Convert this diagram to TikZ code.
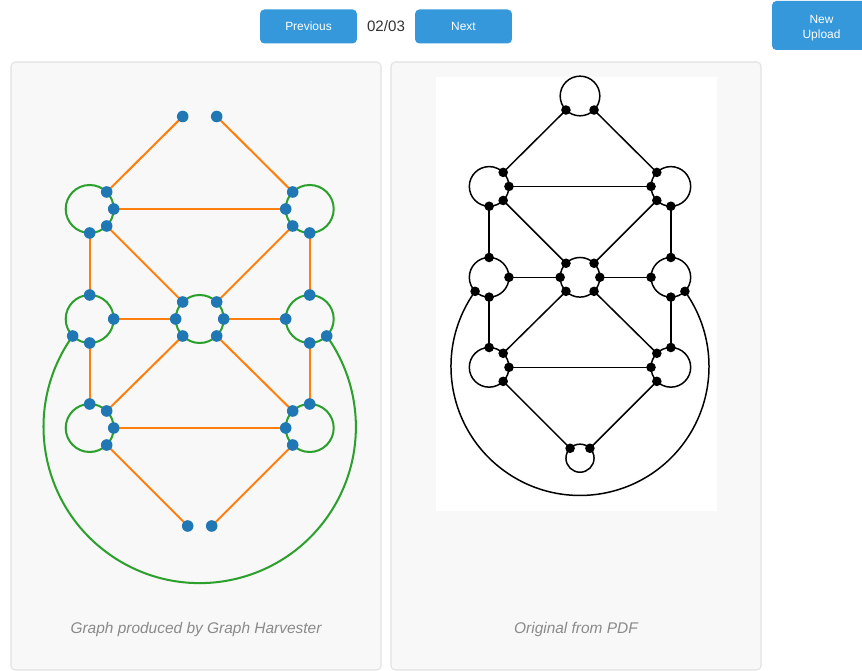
\documentclass[tikz,border=0pt]{standalone}
\usepackage{fontspec}
\setmainfont{Liberation Sans}
\usetikzlibrary{positioning}
\definecolor{BtnBlue}{HTML}{3498DB}
\definecolor{PanelGray}{HTML}{F8F8F8}
\definecolor{PanelLine}{HTML}{E2E2E2}
\definecolor{CapGray}{HTML}{8A8A8A}
\definecolor{PageGray}{HTML}{333333}
\definecolor{HOrange}{HTML}{FF7F0E}
\definecolor{HGreen}{HTML}{2CA02C}
\definecolor{HBlue}{HTML}{1F77B4}

% points of the graph, centre cycle at the origin
\newcommand{\harvestcoords}{%
  \coordinate (cUL) at (-110,110);  \coordinate (cUR) at (110,110);
  \coordinate (cML) at (-110,0);    \coordinate (cC) at (0,0);
  \coordinate (cMR) at (110,0);
  \coordinate (cLL) at (-110,-109); \coordinate (cLR) at (110,-109);
  \coordinate (cT) at (0,219.5);    \coordinate (cB) at (0,-219);
  \coordinate (t1) at (-17,202.5);  \coordinate (t2) at (17,202.5);
  \coordinate (ul1) at (-93,127);   \coordinate (ul2) at (-86,110);
  \coordinate (ul3) at (-93,93);    \coordinate (ul4) at (-110,86);
  \coordinate (ur1) at (93,127);    \coordinate (ur2) at (86,110);
  \coordinate (ur3) at (93,93);     \coordinate (ur4) at (110,86);
  \coordinate (ml1) at (-110,24);   \coordinate (ml2) at (-86,0);
  \coordinate (ml3) at (-127,-17);  \coordinate (ml4) at (-110,-24);
  \coordinate (mr1) at (110,24);    \coordinate (mr2) at (86,0);
  \coordinate (mr3) at (127,-17);   \coordinate (mr4) at (110,-24);
  \coordinate (c1) at (-17,17);     \coordinate (c2) at (17,17);
  \coordinate (c3) at (-24,0);      \coordinate (c4) at (24,0);
  \coordinate (c5) at (-17,-17);    \coordinate (c6) at (17,-17);
  \coordinate (ll1) at (-110,-85);  \coordinate (ll2) at (-93,-92);
  \coordinate (ll3) at (-86,-109);  \coordinate (ll4) at (-93,-126);
  \coordinate (lr1) at (110,-85);   \coordinate (lr2) at (93,-92);
  \coordinate (lr3) at (86,-109);   \coordinate (lr4) at (93,-126);
  \coordinate (b1) at (-12,-207);   \coordinate (b2) at (12,-207);
}
\newcommand{\harvestcycles}{%
  \foreach \c in {cUL,cUR,cML,cC,cMR,cLL,cLR}
    \draw[cycleline] (\c) circle[radius=24];
  \draw[cycleline] (ml3) arc[start angle=144.4, end angle=395.6, radius=156.2];
}
\newcommand{\harvestedges}{%
  \foreach \a/\b in {t1/ul1, t2/ur1, ul2/ur2, ul3/c1, ur3/c2, ul4/ml1, ur4/mr1,
      ml2/c3, c4/mr2, ml4/ll1, mr4/lr1, c5/ll2, c6/lr2, ll3/lr3, ll4/b1, lr4/b2}
    \draw[edgeline] (\a) -- (\b);
}
\newcommand{\harvestdots}{%
  \foreach \p in {t1,t2,ul1,ul2,ul3,ul4,ur1,ur2,ur3,ur4,ml1,ml2,ml3,ml4,
      mr1,mr2,mr3,mr4,c1,c2,c3,c4,c5,c6,ll1,ll2,ll3,ll4,lr1,lr2,lr3,lr4,b1,b2}
    \fill[vtx] (\p) circle[radius=3.3pt];
}

\begin{document}
\begin{tikzpicture}[x=0.02cm, y=0.02cm,
    btn/.style={fill=BtnBlue, text=white, rounded corners=2.5pt, inner sep=0pt,
      font=\fontsize{6.8}{8.5}\selectfont, align=center},
    panel/.style={fill=PanelGray, draw=PanelLine, line width=0.6pt, rounded corners=2.5pt},
    caption/.style={text=CapGray, font=\fontsize{8.8}{10}\selectfont\itshape}]
  \useasboundingbox (0,0) rectangle (862,-671);
  \fill[white] (0,0) rectangle (862,-671);

  % top bar
  \node[btn, minimum width=1.94cm, minimum height=0.68cm] (prev) at (308.5,-26.5) {Previous};
  \node[text=PageGray, font=\fontsize{8.6}{10}\selectfont] (page) at (386,-26) {02/03};
  \node[btn, minimum width=1.94cm, minimum height=0.68cm] (next) at (463.5,-26.5) {Next};
  \node[btn, minimum width=1.98cm, minimum height=0.98cm] (upload) at (821.5,-25.5) {};
  \node[text=white, font=\fontsize{6.8}{8.5}\selectfont, align=center] (uploadtxt)
    at (821.5,-28) {New\\Upload};

  % panels
  \draw[panel] (11,-62) rectangle (381,-670);
  \draw[panel] (391,-62) rectangle (761,-670);
  \fill[white] (436,-77) rectangle (717,-511);
  \node[caption] (capL) at (196,-630) {Graph produced by Graph Harvester};
  \node[caption] (capR) at (576,-630) {Original from PDF};

  % harvested graph
  \begin{scope}[shift={(199.7,-319)},
      cycleline/.style={HGreen, line width=1.15pt},
      edgeline/.style={HOrange, line width=1.15pt},
      vtx/.style={HBlue}]
    \harvestcoords
    \harvestcycles
    \harvestedges
    \harvestdots
  \end{scope}

  % original graph
  \begin{scope}[shift={(580,-277.3)}, scale=0.826,
      cycleline/.style={black, line width=0.85pt},
      edgeline/.style={black, line width=0.85pt},
      vtx/.style={black}]
    \harvestcoords
    \harvestcycles
    \draw[cycleline] (cT) circle[radius=24];
    \draw[cycleline] (cB) circle[radius=17];
    \harvestedges
    \harvestdots
  \end{scope}
\end{tikzpicture}
\end{document}
